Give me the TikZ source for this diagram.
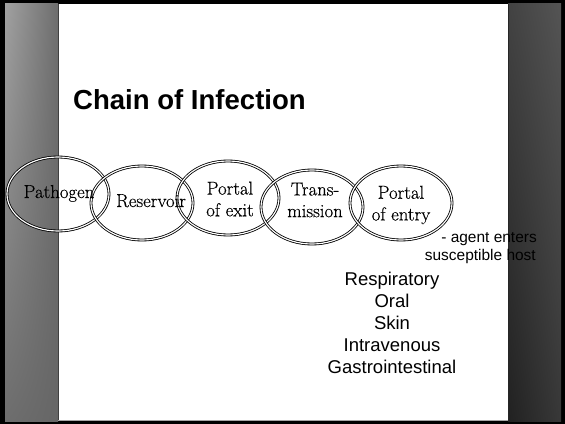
\documentclass[tikz,border=0pt]{standalone}
\usepackage{fontspec}
\setsansfont{Liberation Sans}
\newfontfamily\linkfont{Latin Modern Roman}[FakeBold=0.35]
\usetikzlibrary{shapes.geometric,shadings}

\begin{document}
\begin{tikzpicture}[x=0.03cm,y=-0.03cm,
    link/.style={ellipse, draw, double, double distance=1pt, line width=0.7pt,
                 minimum width=3.06cm, minimum height=2.22cm, inner sep=0pt},
    linktext/.style={inner sep=0pt, align=center, font=\linkfont\fontsize{16}{18.5}\selectfont},
    sidetext/.style={inner sep=0pt, font=\sffamily\fontsize{13.2}{15}\selectfont},
    routetext/.style={inner sep=0pt, anchor=base, font=\sffamily\fontsize{15.8}{18}\selectfont}]
      \useasboundingbox (0,0) rectangle (565,424);
      % slide frame and side panels
      \fill[black] (0,0) rectangle (565,424);
      \fill[white] (5,4) rectangle (561,421);
      \shade[upper left=black!37, upper right=black!57, lower left=black!57, lower right=black!60] (5,4) rectangle (58,421);
      \draw[black!75, line width=0.8pt] (58,4) -- (58,421);
      \shade[upper left=black!74, upper right=black!67, lower left=black!87, lower right=black!78] (508,4) rectangle (561,421);
      \draw[black!85, line width=0.8pt] (508,4) -- (508,421);
      \draw[black!35] (58,420) -- (508,420);
      \node[inner sep=0pt, anchor=base west, font=\sffamily\bfseries\fontsize{23.5}{28}\selectfont] (title) at (73,109) {Chain of Infection};
      % the five links
      \node[link] (pathogen) at (58,194) {};
      \node[link] (reservoir) at (142,203) {};
      \node[link] (exit) at (228,198) {};
      \node[link] (transmission) at (312,207) {};
      \node[link] (entry) at (401,203) {};
      \node[linktext, anchor=base] (pathogentext) at (59,198) {Pathogen};
      \node[linktext, anchor=base] (reservoirtext) at (151,207) {Reservoir};
      \node[linktext] (exittext) at (230,199) {Portal\\of exit};
      \node[linktext] (transmissiontext) at (315,200) {Trans-\\mission};
      \node[linktext] (entrytext) at (401,205) {Portal\\of entry};
      \node[sidetext, anchor=base east] (agent) at (537,242) {- agent enters};
      \node[sidetext, anchor=base east] (host) at (536,260) {susceptible host};
      \foreach \route [count=\i] in {Respiratory,Oral,Skin,Intravenous,Gastrointestinal} {\node[routetext] (route\i) at (392,{262.8+22.2*\i}) {\route}; }
   \end{tikzpicture}
\end{document}
